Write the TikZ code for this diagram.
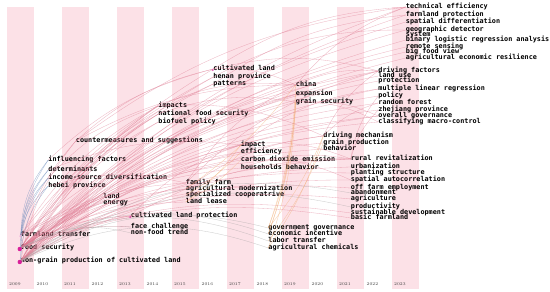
\documentclass[tikz,border=0pt]{standalone}
\usepackage{fontspec}
\usepackage{tikz}
\usetikzlibrary{positioning,calc}
\newfontfamily\kwfont{DejaVu Sans Mono}
\definecolor{stripePink}{HTML}{FCE1E7}
\definecolor{linkPink}{HTML}{DE7890}
\definecolor{linkOrange}{HTML}{F2A868}
\definecolor{linkBlue}{HTML}{5E82B8}
\definecolor{linkGrey}{HTML}{A0A0A0}
\definecolor{hubMagenta}{HTML}{D8209A}

\tikzset{
  kw/.style={anchor=west,inner sep=0pt,font=\kwfont\bfseries\fontsize{6.8}{7}\selectfont,text height=3.7pt,text depth=1.1pt},
  yearlab/.style={anchor=west,inner sep=0pt,font=\fontsize{4.2}{5}\selectfont,text=black!75},
  lnk/.style={line width=0.32pt,opacity=0.55},
}

\begin{document}
\begin{tikzpicture}[x=1pt,y=-1pt]
\useasboundingbox (0,0) rectangle (550,292);
\fill[white] (0,0) rectangle (550,292);
\foreach \i in {0,2,...,14}
  \fill[stripePink] ({7+27.5*\i},7) rectangle ++(27,282);
\foreach \yr [count=\i from 0] in {2009,...,2023}
  \node[yearlab] (y\yr) at ({9+27.5*\i},284) {\yr};

\foreach \n/\c/\y/\t in {ft/0/235/farmland transfer, fs/0/248/food security,
    ng/0/261/non-grain production of cultivated land,
    if/1/160/influencing factors, de/1/170/determinants, is/1/178/income-source diversification, hp/1/186/hebei province,
    cs/2/141/countermeasures and suggestions,
    la/3/197/land, en/3/203/energy,
    clp/4/216/cultivated land protection, fc/4/227/face challenge, nf/4/233/non-food trend,
    im/5/106/impacts, nfs/5/114/national food security, bp/5/122/biofuel policy,
    ff/6/183/family farm, am/6/189/agricultural modernization, sc/6/195/specialized cooperatrive, ll/6/202/land lease,
    cl/7/69/cultivated land, hn/7/77/henan province, pa/7/84/patterns,
    ip/8/145/impact, ef/8/152/efficiency, cd/8/160/carbon dioxide emission, hb/8/168/households behavior,
    gg/9/228/government governance, ei/9/234/economic incentive, lt/9/241/labor transfer, ac/9/248/agricultural chemicals,
    ch/10/85/china, ex/10/94/expansion, gs/10/102/grain security,
    dm/11/136/driving mechanism, gp/11/143/grain production, bh/11/149/behavior,
    rr/12/159/rural revitalization, ur/12/167/urbanization, ps/12/173/planting structure,
    sa/12/180/spatial autocorrelation, of/12/188/off farm employment, ab/12/193/abandonment,
    ag/12/199/agriculture, pr/12/207/productivity, sd/12/213/sustainable development, bf/12/218/basic farmland,
    df/13/71/driving factors, lu/13/76/land use, pt/13/81/protection, ml/13/89/multiple linear regression,
    po/13/96/policy, rf/13/103/random forest, zp/13/110/zhejiang province, og/13/116/overall governance,
    cm/13/122/classifying macro-control,
    te/14/7/technical efficiency, fp/14/15/farmland protection, sdf/14/22/spatial differentiation,
    gd/14/30/geographic detector, sy/14/35/system, bl/14/40/binary logistic regression analysis,
    rs/14/47/remote sensing, bv/14/52/big food view, ae/14/58/agricultural economic resilience}
  \node[kw] (\n) at ({20.75+27.5*\c},\y) {\t};

\begin{scope}[on background layer/.try]
\foreach \a/\b in {ng/cs,ng/la,ng/clp,ng/im,ng/nfs,ng/ff,ng/cl,ng/ip,ng/cd,ng/ch,ng/gs,ng/dm,ng/rr,ng/ur,
    ng/sa,ng/df,ng/ml,ng/te,ng/fp,ng/ae,ng/bl,ng/bp,ng/hn,ng/ex,ng/og,fs/cs,fs/en,fs/clp,fs/fc,fs/im,
    fs/bp,fs/am,fs/ll,fs/hn,fs/ef,fs/hb,fs/ex,fs/gp,fs/bh,fs/ps,fs/of,fs/ag,fs/sd,fs/bf,fs/lu,fs/pt,
    fs/po,fs/rf,fs/zp,fs/og,fs/cm,fs/sdf,fs/gd,fs/rs,fs/bv,fs/pa,fs/nfs,ft/ff,ft/pa,ft/rr,ft/df,ft/im,
    cs/cl,cs/ch,cs/te,im/ch,im/dm,nfs/gs,cl/te,cl/df,cl/ch,ip/rr,ip/ml,ch/te,ch/df,gs/og,gs/cm,dm/df,
    dm/rf,rr/po,rr/zp,clp/ip,clp/rr,ff/ch,ff/df,am/dm,hb/rr,cd/sa,pa/fp,hn/gd,is/im,if/cl,de/ip,hp/ff}
  \draw[lnk,linkPink] (\a.west) to[bend left=14] (\b.west);
\foreach \a/\b in {ft/if,ft/de,ft/is,ft/hp,fs/de,fs/is,ng/if,ng/hp}
  \draw[lnk,linkBlue] (\a.west) to[bend left=18] (\b.west);
\foreach \a/\b in {gg/ch,gg/gs,ei/gs,ll/ip,sc/ef,ac/dm,gg/dm,lt/gp,am/ch,ei/ex,ac/gs,ll/cd}
  \draw[lnk,linkOrange] (\a.west) to[bend right=8] (\b.west);
\foreach \a/\b in {ng/gg,ng/ac,fs/ei,fs/lt,ng/fc,fs/nf,ng/ab,ng/pr}
  \draw[lnk,linkGrey] (\a.west) to[bend left=22] (\b.west);
\end{scope}

\fill[hubMagenta] ($(fs.west)+(-1,1)$) circle (2.2);
\fill[hubMagenta] ($(ng.west)+(-1,1)$) circle (2.2);
\fill[hubMagenta!80] ($(clp.west)+(-0.5,1)$) circle (1.1);
\fill[hubMagenta!70] ($(cl.west)+(-0.5,1)$) circle (1.1);
\fill[hubMagenta!40] ($(ft.west)+(-0.5,1)$) circle (1);
\end{tikzpicture}
\end{document}
